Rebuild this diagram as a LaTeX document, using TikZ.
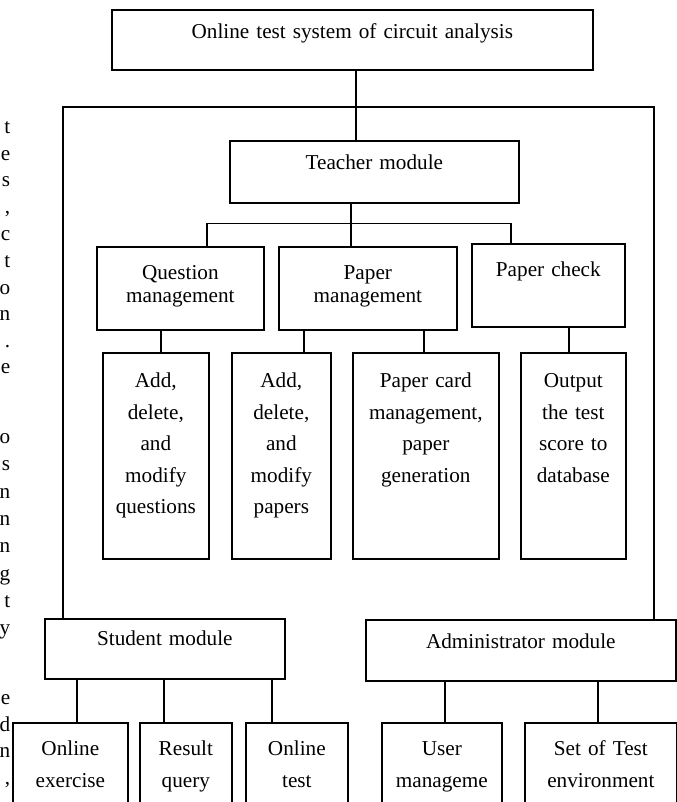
\documentclass[tikz,border=0pt]{standalone}
\usepackage{fontspec}
\setmainfont{Liberation Serif}
\usepackage{tikz}
\usetikzlibrary{positioning,calc}
\tikzstyle{modbox} = [draw, rectangle, line width=1.25pt, inner sep=0pt, anchor=north west, align=center, font=\fontsize{15.9}{17.3}\selectfont]
\tikzstyle{leafbox} = [modbox, font=\fontsize{15.9}{23.6}\selectfont, text height=26.25pt, text depth=128.25pt]
\tikzstyle{lowbox} = [modbox, font=\fontsize{15.9}{24}\selectfont, text height=24.75pt, text depth=50.25pt]
\tikzstyle{margtxt} = [anchor=base east, inner sep=0pt, font=\fontsize{15.9}{17.3}\selectfont]

\begin{document}
\begin{tikzpicture}[x=0.75pt, y=-0.75pt, line width=1.25pt]
  \useasboundingbox (0,0) rectangle (677,802);
  % cut-off text of the page
  \foreach \yy/\ch [count=\i] in {134/t, 161/e, 187/s, 214/{,}, 240/c, 267/t, 294/o, 320/n, 347/., 373/e,
      443/o, 470/s, 498/n, 525/n, 552/n, 580/g, 607/t, 634/y, 704/e, 731/d, 757/n, 784/{,}}
    \node[margtxt] (m\i) at (11,\yy) {\ch};

  % teacher part
  \node[modbox, text width=360.75pt, text height=21.75pt, text depth=23.25pt] (sys) at (111,9) {Online test system of circuit analysis};
  \node[modbox, text width=216.75pt, text height=21.75pt, text depth=24.75pt] (tea) at (229,140) {Teacher module};
  \node[modbox, text width=125.25pt, text height=24.75pt, text depth=37.5pt] (qm) at (96,246) {Question\\management};
  \node[modbox, text width=133.5pt, text height=24.75pt, text depth=37.5pt] (pm) at (278,246) {Paper\\management};
  \node[modbox, text width=114.75pt, text height=24.75pt, text depth=37.5pt] (pc) at (471,243) {Paper check};
  \node[leafbox, text width=79.5pt] (aq) at (102,352) {Add,\\delete,\\and\\modify\\questions};
  \node[leafbox, text width=74.25pt] (ap) at (231,352) {Add,\\delete,\\and\\modify\\papers};
  \node[leafbox, text width=109.5pt] (pg) at (352,352) {Paper card\\management,\\paper\\generation};
  \node[leafbox, text width=78.75pt] (out) at (520,352) {Output\\the test\\score to\\database};

  % student and administrator part
  \node[modbox, text width=180pt, text height=20.25pt, text depth=24.75pt] (stu) at (44,618) {Student module};
  \node[modbox, text width=232.5pt, text height=21.75pt, text depth=24pt] (adm) at (365,619) {Administrator module};
  \node[lowbox, text width=86.25pt] (oe) at (12,722) {Online\\exercise};
  \node[lowbox, text width=69pt] (rq) at (139,722) {Result\\query};
  \node[lowbox, text width=76.5pt] (ot) at (245,722) {Online\\test};
  \node[lowbox, text width=90pt] (um) at (381,722) {User\\manageme};
  \node[lowbox, text width=114pt] (st) at (524,722) {Set of Test\\environment};

  % connectors
  \draw ($(sys.south)+(3.5,0)$) coordinate (s0) -- (s0 |- tea.north);
  \draw ($(stu.north west)+(19,0)$) |- ($(sys.south)!0.52!(tea.north)$) -| ($(adm.north east)+(-23,0)$);
  \draw ($(tea.south)+(-23.5,0)$) coordinate (t0) -- ($(t0)+(0,20)$) coordinate (bar);
  \draw ($(qm.north)+(26.5,0)$) |- (bar) -| ($(pc.north)+(-37.5,0)$);
  \draw (bar) -- (bar |- pm.north);
  \foreach \c/\p/\d in {aq/qm/5, ap/pm/22.5, pg/pm/-2, out/pc/-4.5, oe/stu/6.5, rq/stu/-22, ot/stu/-25, um/adm/3, st/adm/-3}
    \draw ($(\c.north)+(\d,0)$) coordinate (k) -- (k |- \p.south);
\end{tikzpicture}
\end{document}
